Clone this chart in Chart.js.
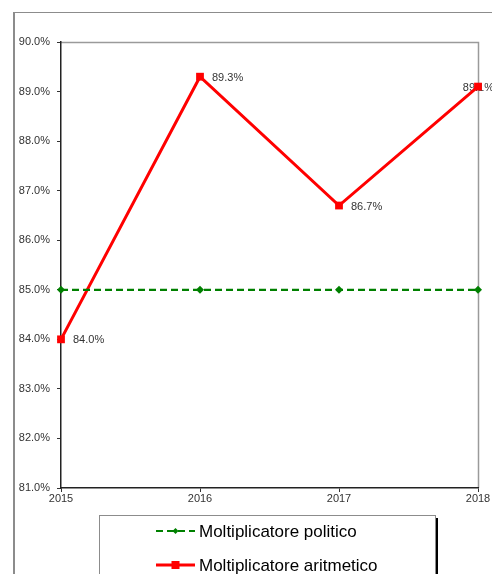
<!DOCTYPE html>
<html>
<head>
<meta charset="utf-8">
<script src="https://cdn.jsdelivr.net/npm/chart.js@4.4.1/dist/chart.umd.min.js"></script>
<style>
html,body{margin:0;padding:0;background:#fff;}
#wrap{position:relative;width:492px;height:574px;}
</style>
</head>
<body>
<div id="wrap"><canvas id="c" width="492" height="574"></canvas></div>
<script>
const years = ['2015', '2016', '2017', '2018'];
const politico = [85.0, 85.0, 85.0, 85.0];
const aritmetico = [84.0, 89.3, 86.7, 89.1];
const seriesNames = ['Moltiplicatore politico', 'Moltiplicatore aritmetico'];
const yMin = 81, yMax = 90, yStep = 1;

const FONT = 'Arial, "Liberation Sans", sans-serif';

const framePlugin = {
  id: 'frame',
  beforeDraw(chart) {
    const ctx = chart.ctx;
    const a = chart.chartArea;
    ctx.save();
    ctx.strokeStyle = '#8c8c8c';
    ctx.lineWidth = 1;
    ctx.beginPath();
    ctx.moveTo(14.5, 580);
    ctx.lineTo(14.5, 12.5);
    ctx.lineTo(500, 12.5);
    ctx.stroke();
    ctx.lineWidth = 2;
    ctx.beginPath();
    ctx.moveTo(14, 580);
    ctx.lineTo(14, 12);
    ctx.stroke();
    ctx.strokeStyle = '#9a9a9a';
    ctx.lineWidth = 1.5;
    ctx.beginPath();
    ctx.moveTo(a.left, a.top + 0.5);
    ctx.lineTo(a.right + 0.5, a.top + 0.5);
    ctx.lineTo(a.right + 0.5, a.bottom);
    ctx.stroke();
    ctx.restore();
  },
  beforeDatasetsDraw(chart) {
    const ctx = chart.ctx;
    const meta = chart.getDatasetMeta(1);
    ctx.save();
    ctx.font = '11px ' + FONT;
    ctx.fillStyle = '#333333';
    ctx.textBaseline = 'middle';
    ctx.textAlign = 'left';
    meta.data.forEach((pt, i) => {
      const txt = aritmetico[i].toFixed(1) + '%';
      const w = ctx.measureText(txt).width;
      let x = pt.x + 12;
      if (x + w > chart.width + 2) x = chart.width + 2 - w;
      ctx.fillText(txt, x, pt.y + 1);
    });
    ctx.restore();
  },
  afterDraw(chart) {
    const ctx = chart.ctx;
    ctx.save();
    const bx = 99, by = 515, bw = 336, bh = 80;
    ctx.fillStyle = '#000';
    ctx.fillRect(bx + bw, by + 3, 3, bh);
    ctx.fillStyle = '#fff';
    ctx.fillRect(bx, by, bw, bh);
    ctx.strokeStyle = '#8c8c8c';
    ctx.lineWidth = 1;
    ctx.strokeRect(bx + 0.5, by + 0.5, bw, bh);
    const items = [
      {y: 531, ds: chart.data.datasets[0]},
      {y: 565, ds: chart.data.datasets[1]}
    ];
    items.forEach(it => {
      const ds = it.ds;
      ctx.strokeStyle = ds.borderColor;
      ctx.lineWidth = ds.borderWidth;
      ctx.setLineDash(ds.borderDash || []);
      ctx.beginPath();
      ctx.moveTo(156, it.y);
      ctx.lineTo(195, it.y);
      ctx.stroke();
      ctx.setLineDash([]);
      ctx.fillStyle = ds.pointBackgroundColor;
      if (ds.pointStyle === 'rectRot') {
        ctx.beginPath();
        ctx.moveTo(175.5, it.y - 3);
        ctx.lineTo(178.5, it.y);
        ctx.lineTo(175.5, it.y + 3);
        ctx.lineTo(172.5, it.y);
        ctx.closePath();
        ctx.fill();
      } else {
        ctx.fillRect(171.5, it.y - 4, 8, 8);
      }
      ctx.fillStyle = '#000';
      ctx.font = '17px ' + FONT;
      ctx.textBaseline = 'middle';
      ctx.textAlign = 'left';
      ctx.fillText(ds.label, 199, it.y + 1);
    });
    ctx.restore();
  }
};

new Chart(document.getElementById('c'), {
  type: 'line',
  data: {
    labels: years,
    datasets: [
      {
        label: seriesNames[0],
        data: politico,
        borderColor: '#008000',
        backgroundColor: '#008000',
        pointBackgroundColor: '#008000',
        pointBorderColor: '#008000',
        borderWidth: 2.2,
        borderDash: [7, 4],
        pointStyle: 'rectRot',
        pointRadius: 4,
        pointBorderWidth: 0,
        tension: 0,
        clip: false
      },
      {
        label: seriesNames[1],
        data: aritmetico,
        borderColor: '#ff0000',
        backgroundColor: '#ff0000',
        pointBackgroundColor: '#ff0000',
        pointBorderColor: '#ff0000',
        borderWidth: 3,
        pointStyle: 'rect',
        pointRadius: 5.5,
        pointBorderWidth: 0,
        tension: 0,
        clip: false
      }
    ]
  },
  options: {
    responsive: false,
    animation: false,
    devicePixelRatio: 1,
    layout: {padding: {left: 0, right: 14, top: 42, bottom: 0}},
    plugins: {
      legend: {display: false},
      tooltip: {enabled: false}
    },
    scales: {
      x: {
        type: 'category',
        offset: false,
        grid: {display: true, drawOnChartArea: false, drawTicks: true, tickLength: 4, color: '#333'},
        border: {display: true, color: '#222', width: 1.5},
        ticks: {color: '#333', font: {family: FONT, size: 11}, padding: 0, maxRotation: 0, autoSkip: false},
        afterFit(s) { s.height = 86; }
      },
      y: {
        min: yMin,
        max: yMax,
        grid: {display: true, drawOnChartArea: false, drawTicks: true, tickLength: 4, color: '#333'},
        border: {display: true, color: '#222', width: 1.5},
        ticks: {
          stepSize: yStep,
          color: '#333',
          font: {family: FONT, size: 11},
          padding: 7,
          callback: v => v.toFixed(1) + '%'
        },
        afterFit(s) { s.width = 61; }
      }
    }
  },
  plugins: [framePlugin]
});
</script>
</body>
</html>
